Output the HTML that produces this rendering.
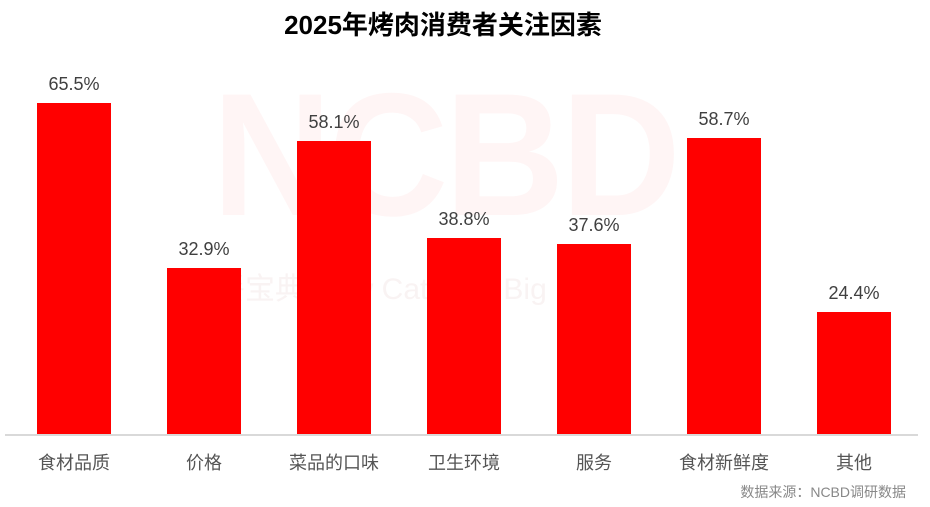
<!DOCTYPE html>
<html><head><meta charset="utf-8"><style>
body{margin:0;width:930px;height:507px;background:#fff;position:relative;overflow:hidden;font-family:"Liberation Sans","Noto Sans CJK SC",sans-serif}
.t{position:absolute;left:0;width:886px;top:5px;text-align:center;font-size:26px;font-weight:bold;color:#000}
.b{position:absolute;background:#ff0000;width:74px}
.v{position:absolute;width:120px;text-align:center;font-size:18px;color:#404040}
.l{position:absolute;width:140px;text-align:center;font-size:18px;color:#555;top:449px}
.ax{position:absolute;left:5px;width:913px;top:434px;height:2px;background:#d9d9d9}
.wm{position:absolute;left:212px;top:55px;font-size:175px;font-weight:bold;color:#fff5f5;letter-spacing:-4px;transform:scaleX(0.95);transform-origin:left}
.wm2{position:absolute;left:215px;top:264px;font-size:30px;color:#f9f3f3}
.src{position:absolute;right:24px;top:482px;font-size:14px;color:#888}
</style></head><body>
<div class="wm">NCBD</div>
<div class="wm2">餐宝典 New Catering Big Data</div>
<div class="t">2025年烤肉消费者关注因素</div>
<div class="b" style="left:37px;top:103px;height:332px"></div>
<div class="b" style="left:167px;top:268px;height:167px"></div>
<div class="b" style="left:297px;top:141px;height:294px"></div>
<div class="b" style="left:427px;top:238px;height:197px"></div>
<div class="b" style="left:557px;top:244px;height:191px"></div>
<div class="b" style="left:687px;top:138px;height:297px"></div>
<div class="b" style="left:817px;top:312px;height:123px"></div>
<div class="v" style="left:14px;top:74px">65.5%</div>
<div class="v" style="left:144px;top:239px">32.9%</div>
<div class="v" style="left:274px;top:112px">58.1%</div>
<div class="v" style="left:404px;top:209px">38.8%</div>
<div class="v" style="left:534px;top:215px">37.6%</div>
<div class="v" style="left:664px;top:109px">58.7%</div>
<div class="v" style="left:794px;top:283px">24.4%</div>
<div class="ax"></div>
<div class="l" style="left:4px">食材品质</div>
<div class="l" style="left:134px">价格</div>
<div class="l" style="left:264px">菜品的口味</div>
<div class="l" style="left:394px">卫生环境</div>
<div class="l" style="left:524px">服务</div>
<div class="l" style="left:654px">食材新鲜度</div>
<div class="l" style="left:784px">其他</div>
<div class="src">数据来源：NCBD调研数据</div>
</body></html>
